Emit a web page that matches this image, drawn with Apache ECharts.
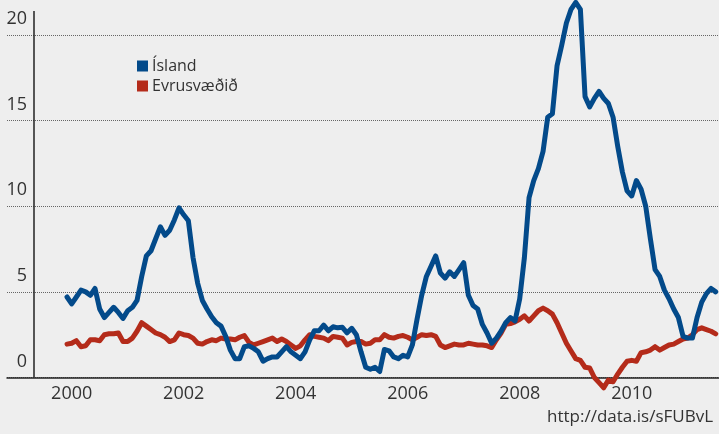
<!DOCTYPE html>
<html><head><meta charset="utf-8">
<script src="https://cdn.jsdelivr.net/npm/echarts@6/dist/echarts.min.js"></script>
<style>html,body{margin:0;padding:0;background:#eeeeee;}#c{width:719px;height:434px;}</style>
</head><body><div id="c"></div>
<script>
// Monthly index: 0 = Jan 2000
const seriesNames = ['Ísland', 'Evrusvæðið'];
const iceland = [4.7,4.3,4.7,5.1,5.0,4.8,5.2,4.0,3.5,3.8,4.1,3.8,
 3.45,3.9,4.1,4.5,5.9,7.1,7.4,8.1,8.8,8.3,8.6,9.2,
 9.9,9.5,9.15,7.0,5.5,4.5,4.0,3.55,3.2,3.0,2.4,1.6,
 1.1,1.1,1.8,1.85,1.7,1.5,0.95,1.1,1.2,1.2,1.5,1.8,
 1.5,1.3,1.1,1.5,2.2,2.73,2.73,3.06,2.73,2.96,2.9,2.93,
 2.61,2.87,2.5,1.5,0.6,0.48,0.6,0.35,1.64,1.56,1.2,1.1,
 1.3,1.2,1.9,3.4,4.8,5.9,6.5,7.1,6.1,5.8,6.17,5.9,
 6.3,6.7,4.8,4.2,4.0,3.1,2.6,2.0,2.3,2.7,3.2,3.5,
 3.3,4.6,7.0,10.5,11.5,12.2,13.2,15.2,15.4,18.2,19.4,20.7,
 21.5,21.9,21.5,16.4,15.8,16.3,16.7,16.3,16.0,15.2,13.5,12.0,
 10.9,10.6,11.5,11.0,10.0,8.1,6.3,5.9,5.1,4.6,4.0,3.5,
 2.4,2.3,2.3,3.5,4.4,4.9,5.2,5.0];
const euro = [1.95,2.0,2.15,1.8,1.85,2.2,2.2,2.15,2.5,2.55,2.55,2.6,
 2.1,2.1,2.3,2.7,3.2,3.0,2.8,2.6,2.5,2.35,2.1,2.2,
 2.6,2.5,2.45,2.3,2.0,1.95,2.1,2.2,2.15,2.3,2.25,2.25,
 2.2,2.35,2.45,2.05,1.9,2.0,2.1,2.2,2.3,2.1,2.25,2.1,
 1.9,1.7,1.85,2.2,2.5,2.4,2.35,2.3,2.15,2.4,2.35,2.3,
 1.9,2.05,2.1,2.1,1.95,2.0,2.2,2.2,2.5,2.35,2.3,2.4,
 2.45,2.35,2.2,2.35,2.5,2.45,2.5,2.4,1.9,1.75,1.85,1.95,
 1.9,1.9,2.0,1.95,1.9,1.9,1.85,1.75,2.2,2.6,3.1,3.15,
 3.25,3.4,3.6,3.3,3.6,3.9,4.05,3.9,3.7,3.2,2.6,2.0,
 1.55,1.1,1.0,0.6,0.55,0.0,-0.3,-0.6,-0.15,-0.25,0.2,0.6,
 0.95,1.0,0.95,1.45,1.5,1.6,1.8,1.6,1.75,1.9,1.95,2.1,
 2.25,2.3,2.5,2.8,2.9,2.8,2.7,2.55];
const xTickValues = [1, 25, 49, 73, 97, 121];
const xTickLabels = ['2000', '2002', '2004', '2006', '2008', '2010'];
const sourceText = 'http://data.is/sFUBvL';

const FONT = '"Open Sans", "Noto Sans", sans-serif';
const toPairs = arr => arr.map((v, i) => [i, v]);

const chart = echarts.init(document.getElementById('c'), null, {renderer: 'canvas'});
chart.setOption({
  backgroundColor: '#eeeeee',
  animation: false,
  textStyle: {fontFamily: FONT},
  title: {
    text: sourceText, right: 1, bottom: 3,
    textStyle: {fontSize: 17, fontWeight: 'normal', color: '#333', fontFamily: FONT}
  },
  legend: {
    orient: 'vertical', left: 132, top: 53, itemWidth: 11, itemHeight: 11, itemGap: 4,
    icon: 'rect',
    textStyle: {fontSize: 16, color: '#333', fontFamily: FONT, padding: [0,0,0,-1]},
    data: seriesNames
  },
  grid: {left: 7, right: 0, top: 11, bottom: 56.5, containLabel: false},
  xAxis: {
    type: 'value', min: -12.86, max: 139.7,
    axisLine: {show: true, onZero: true, lineStyle: {color: '#222', width: 1.5}},
    axisTick: {show: false},
    splitLine: {show: false},
    axisLabel: {
      customValues: xTickValues, margin: 7, fontSize: 18, color: '#333', fontFamily: FONT,
      formatter: v => xTickLabels[xTickValues.indexOf(v)] || ''
    }
  },
  yAxis: {
    type: 'value', min: 0, max: 21.4, interval: 5,
    axisLine: {show: false}, axisTick: {show: false},
    splitLine: {show: true, showMaxLine: false, lineStyle: {type: 'dotted', color: '#666', width: 1}},
    axisLabel: {
      inside: true, margin: 20, align: 'right', verticalAlign: 'bottom',
      fontSize: 18, lineHeight: 18, padding: [0,0,7,0], color: '#333', fontFamily: FONT,
      showMaxLabel: false
    }
  },
  series: [
    {
      name: seriesNames[0], type: 'line', data: toPairs(iceland), showSymbol: false, symbol: 'none',
      clip: false, lineStyle: {width: 5, color: '#034a8a', join: 'round', cap: 'round'}, itemStyle: {color: '#034a8a'},
      z: 3,
      markLine: {
        silent: true, symbol: 'none', label: {show: false},
        lineStyle: {type: 'solid', color: '#222', width: 1.5},
        data: [{xAxis: -7.07}]
      }
    },
    {
      name: seriesNames[1], type: 'line', data: toPairs(euro), showSymbol: false, symbol: 'none',
      clip: false, lineStyle: {width: 5, color: '#b42b1a', join: 'round', cap: 'round'}, itemStyle: {color: '#b42b1a'},
      z: 2
    }
  ]
});
</script></body></html>
